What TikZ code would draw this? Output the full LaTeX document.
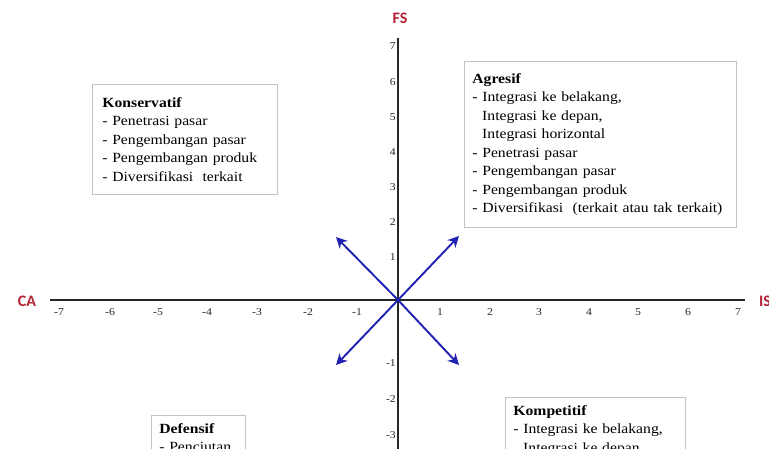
\documentclass[tikz,border=0pt]{standalone}
\usepackage{fontspec}
\setmainfont{Liberation Serif}[FakeStretch=1.12]
\newfontfamily\axfont{Carlito}
\usetikzlibrary{arrows.meta}
\definecolor{axred}{RGB}{178,34,52}
\definecolor{arrblue}{RGB}{32,32,178}
\definecolor{boxgray}{RGB}{195,195,195}
\begin{document}
\begin{tikzpicture}[x=1pt,y=-1pt,
  axisline/.style={line width=2.2pt,black!85},
  vec/.style={line width=1.9pt,arrblue,-{Stealth[length=11pt,width=11pt,inset=3.5pt]}},
  axlabel/.style={font=\axfont\bfseries\fontsize{16}{18}\selectfont,text=axred,inner sep=0pt},
  ticklbl/.style={font=\fontsize{10.5}{12}\selectfont,inner sep=0pt,text=black!85},
  qbox/.style={draw=boxgray,line width=0.8pt,fill=white,anchor=north west,align=left,
    inner xsep=10pt,inner ysep=8pt,font=\fontsize{14}{18.5}\selectfont}]
\useasboundingbox (0,0) rectangle (769,449);
\clip (0,0) rectangle (769,449);
% axes
\coordinate (O) at (398,300);
\coordinate (xl) at (50,300);
\coordinate (xr) at (745,300);
\coordinate (yt) at (398,38);
\coordinate (yb) at (398,470);
\draw[axisline] (xl) -- (xr);
\draw[axisline] (yt) -- (yb);
% axis labels
\node[axlabel] (FS) at (400,18) {FS};
\node[axlabel] (CA) at (27,301) {CA};
\node[axlabel,anchor=west] (IS) at (759,301) {IS};
% x tick labels
\foreach \v/\px in {-7/59,-6/110,-5/158,-4/207,-3/257,-2/308,-1/357,1/440,2/490,3/539,4/589,5/638,6/688,7/738}
  \node[ticklbl] (tx\v) at (\px,312) {\v};
% y tick labels
\foreach \v/\py in {7/46,6/82,5/117,4/152,3/187,2/222,1/257,-1/363,-2/399,-3/435}
  \node[ticklbl,anchor=east] (ty\v) at (396,\py) {\v};
% strategy vectors
\coordinate (ul) at (336,237);
\coordinate (ur) at (459,236);
\coordinate (ll) at (336,365);
\coordinate (lr) at (459,365);
\draw[vec] (O) -- (ul);
\draw[vec] (O) -- (ur);
\draw[vec] (O) -- (ll);
\draw[vec] (O) -- (lr);
% boxes
\node[qbox,minimum width=185pt,minimum height=110pt,text width=165pt] (kons) at (92,84)
  {\textbf{Konservatif}\\- Penetrasi pasar\\- Pengembangan pasar\\- Pengembangan produk\\- Diversifikasi\ \ terkait};
\node[qbox,minimum width=272pt,minimum height=166pt,text width=256pt,inner xsep=8pt] (agr) at (464,61)
  {\textbf{Agresif}\\- Integrasi ke belakang,\\\hspace*{0.7em}Integrasi ke depan,\\\hspace*{0.7em}Integrasi horizontal\\- Penetrasi pasar\\- Pengembangan pasar\\- Pengembangan produk\\- Diversifikasi\ \ (terkait atau tak terkait)};
\node[qbox,minimum width=94pt,text width=78pt,inner xsep=8pt] (def) at (151,415)
  {\textbf{Defensif}\\- Penciutan};
\node[qbox,minimum width=180pt,text width=164pt,inner xsep=8pt] (komp) at (505,397)
  {\textbf{Kompetitif}\\- Integrasi ke belakang,\\\hspace*{0.7em}Integrasi ke depan,};
\end{tikzpicture}
\end{document}
